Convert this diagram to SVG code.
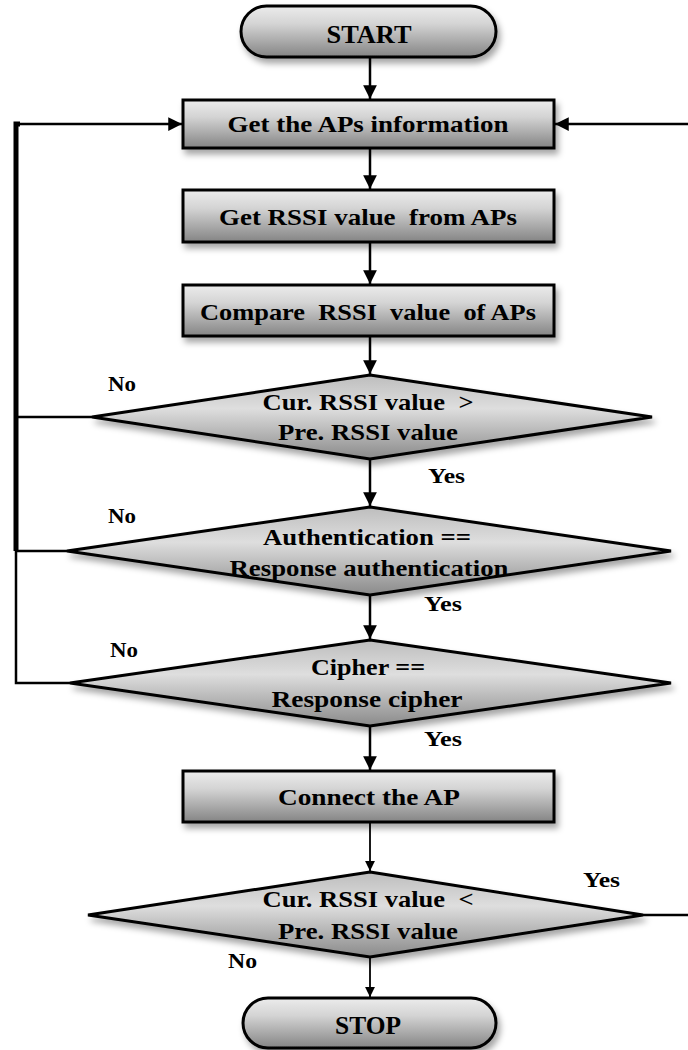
<svg xmlns="http://www.w3.org/2000/svg" width="688" height="1050" viewBox="0 0 688 1050">
<style>
.shape{stroke:#000;stroke-width:3;filter:url(#sh)}
.box{fill:url(#gBox)}
.dia{fill:url(#gDia)}
.t{font-family:"Liberation Serif","Times New Roman",serif;font-weight:bold;font-size:23px;fill:#000;text-anchor:middle}
.tl{font-family:"Liberation Serif","Times New Roman",serif;font-weight:bold;font-size:21px;fill:#000}
.c{stroke:#000;stroke-width:2.5;fill:none}
.thick{stroke:#000;stroke-width:5;fill:none}
.arr{marker-end:url(#ah)}
</style>
<defs>
<linearGradient id="gBox" x1="0" y1="0" x2="0" y2="1">
<stop offset="0" stop-color="#ececec"/>
<stop offset="0.35" stop-color="#d4d4d4"/>
<stop offset="1" stop-color="#848484"/>
</linearGradient>
<linearGradient id="gDia" x1="0" y1="0" x2="0" y2="1">
<stop offset="0" stop-color="#bdbdbd"/>
<stop offset="0.4" stop-color="#dedede"/>
<stop offset="1" stop-color="#8a8a8a"/>
</linearGradient>
<filter id="sh" x="-10%" y="-20%" width="125%" height="150%">
<feDropShadow dx="3" dy="5" stdDeviation="3" flood-color="#000" flood-opacity="0.35"/>
</filter>
<marker id="ah" viewBox="0 0 10 10" refX="10" refY="5" markerWidth="5.5" markerHeight="5.5" markerUnits="strokeWidth" orient="auto">
<path d="M0,0 L10,5 L0,10 Z" fill="#000"/>
</marker>
</defs>

<g id="connectors">
<line class="c arr" x1="370" y1="57" x2="370" y2="99"/>
<line class="c arr" x1="370" y1="149" x2="370" y2="189"/>
<line class="c arr" x1="370" y1="243" x2="370" y2="284"/>
<line class="c arr" x1="370" y1="337" x2="370" y2="374"/>
<line class="c arr" x1="370" y1="459" x2="370" y2="506"/>
<line class="c arr" x1="370" y1="595" x2="370" y2="639"/>
<line class="c arr" x1="370" y1="726" x2="370" y2="770"/>
<line class="c arr" x1="370" y1="823" x2="370" y2="871" style="stroke-width:1.8"/>
<line class="c arr" x1="370" y1="957" x2="370" y2="997" style="stroke-width:1.8"/>
<polyline class="thick" points="16,551 16,124 20,124"/>
<line class="c arr" x1="16" y1="124" x2="182" y2="124"/>
<polyline class="c" points="16,551 16,683 70,683"/>
<line class="c" x1="16" y1="417" x2="92" y2="417"/>
<line class="c" x1="16" y1="551" x2="67" y2="551"/>
<line class="c arr" x1="690" y1="124" x2="555" y2="124"/>
<line class="c" x1="643" y1="915" x2="690" y2="915"/>
<text class="tl" x="108" y="391" textLength="28" lengthAdjust="spacingAndGlyphs">No</text>
<text class="tl" x="428" y="483" textLength="37" lengthAdjust="spacingAndGlyphs">Yes</text>
<text class="tl" x="108" y="523" textLength="28" lengthAdjust="spacingAndGlyphs">No</text>
<text class="tl" x="424" y="611" textLength="38" lengthAdjust="spacingAndGlyphs">Yes</text>
<text class="tl" x="110" y="657" textLength="28" lengthAdjust="spacingAndGlyphs">No</text>
<text class="tl" x="424" y="746" textLength="38" lengthAdjust="spacingAndGlyphs">Yes</text>
<text class="tl" x="583" y="887" textLength="37" lengthAdjust="spacingAndGlyphs">Yes</text>
<text class="tl" x="228" y="968" textLength="29" lengthAdjust="spacingAndGlyphs">No</text>
</g>

<g id="start">
<rect class="shape box" x="241" y="6" width="255" height="51" rx="25.5"/>
<text class="t" x="369" y="43" style="font-size:25px" textLength="85" lengthAdjust="spacingAndGlyphs">START</text>
</g>
<g id="get-ap-info">
<rect class="shape box" x="183" y="100" width="371" height="48"/>
<text class="t" x="368" y="132" textLength="281" lengthAdjust="spacingAndGlyphs">Get the APs information</text>
</g>
<g id="get-rssi">
<rect class="shape box" x="183" y="190" width="371" height="52"/>
<text class="t" x="368" y="225" textLength="298" lengthAdjust="spacingAndGlyphs" xml:space="preserve">Get RSSI value  from APs</text>
</g>
<g id="compare-rssi">
<rect class="shape box" x="183" y="285" width="371" height="51"/>
<text class="t" x="368" y="320" textLength="336" lengthAdjust="spacingAndGlyphs" xml:space="preserve">Compare  RSSI  value  of APs</text>
</g>
<g id="dec-rssi-gt">
<polygon class="shape dia" points="370,375 652,417 370,459 92,417"/>
<text class="t" x="368" y="410" textLength="211" lengthAdjust="spacingAndGlyphs" xml:space="preserve">Cur. RSSI value  &gt;</text>
<text class="t" x="368" y="440" textLength="180" lengthAdjust="spacingAndGlyphs">Pre. RSSI value</text>
</g>
<g id="dec-auth">
<polygon class="shape dia" points="370,507 671,551 370,595 67,551"/>
<text class="t" x="367" y="545" textLength="208" lengthAdjust="spacingAndGlyphs">Authentication ==</text>
<text class="t" x="369" y="576" textLength="279" lengthAdjust="spacingAndGlyphs">Response authentication</text>
</g>
<g id="dec-cipher">
<polygon class="shape dia" points="370,640 671,683 370,726 70,683"/>
<text class="t" x="368" y="675" textLength="114" lengthAdjust="spacingAndGlyphs">Cipher ==</text>
<text class="t" x="367" y="707" textLength="191" lengthAdjust="spacingAndGlyphs">Response cipher</text>
</g>
<g id="connect-ap">
<rect class="shape box" x="183" y="771" width="371" height="51"/>
<text class="t" x="369" y="805" textLength="182" lengthAdjust="spacingAndGlyphs">Connect the AP</text>
</g>
<g id="dec-rssi-lt">
<polygon class="shape dia" points="370,872 643,915 370,957 88,915"/>
<text class="t" x="368" y="907" textLength="211" lengthAdjust="spacingAndGlyphs" xml:space="preserve">Cur. RSSI value  &lt;</text>
<text class="t" x="368" y="939" textLength="180" lengthAdjust="spacingAndGlyphs">Pre. RSSI value</text>
</g>
<g id="stop">
<rect class="shape box" x="243" y="998" width="253" height="50" rx="25"/>
<text class="t" x="368" y="1034" style="font-size:25px" textLength="66" lengthAdjust="spacingAndGlyphs">STOP</text>
</g>
</svg>
